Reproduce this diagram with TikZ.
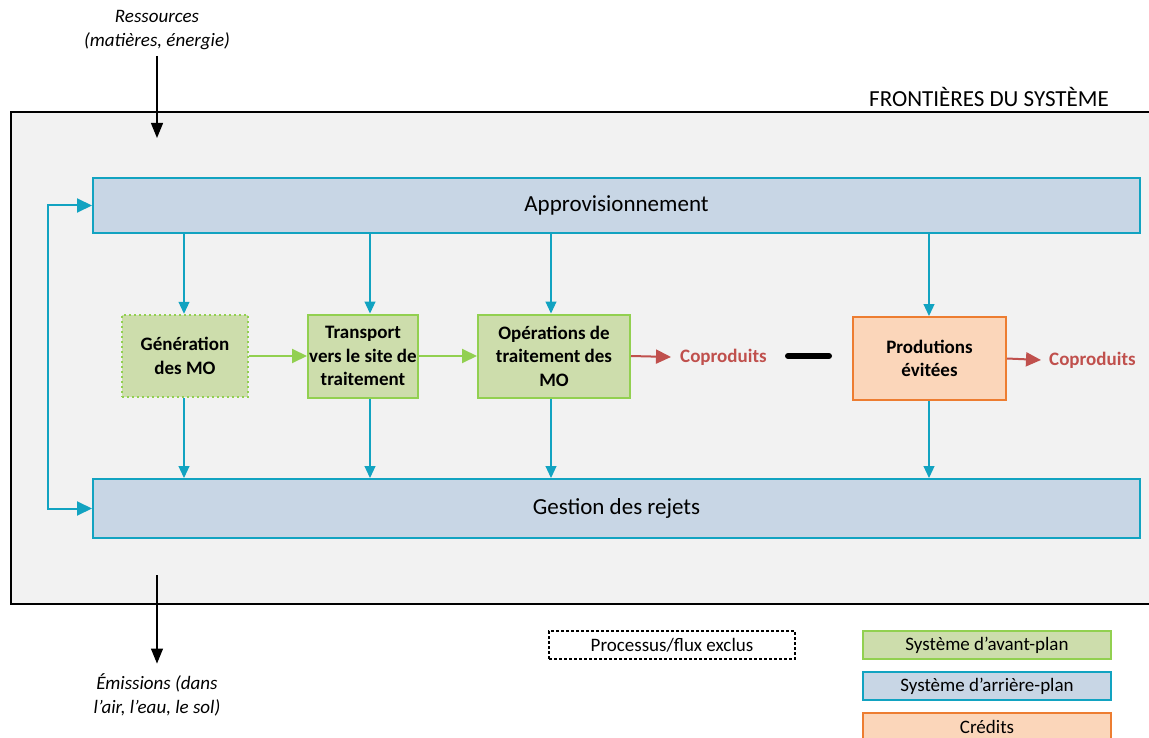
\documentclass[tikz,border=0pt]{standalone}
\usepackage{fontspec}
\setmainfont{Carlito}
\usetikzlibrary{arrows.meta}
\definecolor{fond}{RGB}{242,242,242}
\definecolor{bleu}{RGB}{18,163,193}
\definecolor{bleuclair}{RGB}{200,214,229}
\definecolor{vert}{RGB}{146,208,80}
\definecolor{vertclair}{RGB}{205,221,172}
\definecolor{orange}{RGB}{237,125,49}
\definecolor{orangeclair}{RGB}{251,214,186}
\definecolor{rouge}{RGB}{192,80,77}
\tikzset{
  grand/.style={font=\fontsize{23}{27}\selectfont},
  arriere/.style={draw=bleu,fill=bleuclair,line width=2pt,inner sep=0pt,grand},
  avant/.style={draw=vert,fill=vertclair,line width=2pt,inner sep=0pt,align=center,font=\fontsize{19}{23.5}\selectfont\bfseries},
  credit/.style={draw=orange,fill=orangeclair,line width=2pt,inner sep=0pt,align=center,font=\fontsize{19}{23.5}\selectfont\bfseries},
  legende/.style={line width=2pt,inner sep=0pt,minimum width=248pt,minimum height=28pt,font=\fontsize{19}{23}\selectfont},
  fleche/.style={draw=bleu,line width=1.2pt,-{Triangle[width=11pt,length=12pt]}},
  boucle/.style={draw=bleu,line width=2pt,{Triangle[width=14pt,length=15pt]}-{Triangle[width=14pt,length=15pt]}},
  flvert/.style={draw=vert,line width=2pt,-{Triangle[width=14pt,length=15pt]}},
  flrouge/.style={draw=rouge,line width=2pt,-{Triangle[width=14pt,length=15pt]}},
  flnoir/.style={line width=1.2pt,-{Triangle[width=12pt,length=15pt]}},
  coprod/.style={anchor=west,inner sep=0pt,text=rouge,font=\fontsize{19}{23}\selectfont\bfseries},
  italique/.style={align=center,inner sep=2pt,font=\fontsize{19}{24}\selectfont\itshape}
}
\begin{document}
\begin{tikzpicture}[x=1pt,y=-1pt]
  \useasboundingbox (0,0) rectangle (1149,738);
  % frontieres du systeme
  \draw[line width=2.5pt,fill=fond] (11,112) rectangle (1170,604);
  \node[anchor=base east,inner sep=0pt,grand] (front) at (1109,107) {FRONTIÈRES DU SYSTÈME};

  % arriere-plan
  \node[arriere,minimum width=1047pt,minimum height=55pt] (appro) at (616.5,205.5) {\raisebox{-2pt}{Approvisionnement}};
  \node[arriere,minimum width=1047pt,minimum height=59pt] (rejets) at (616.5,508.5) {\raisebox{-2pt}{Gestion des rejets}};
  \draw[boucle] (appro.west) -- ++(-44,0) |- (rejets.west);

  % avant-plan
  \node[avant,dash pattern=on 2pt off 3pt,line width=2.5pt,minimum width=126pt,minimum height=82pt] (gen) at (185,356) {Génération\\des MO};
  \node[avant,minimum width=110pt,minimum height=83pt] (trans) at (363,356) {Transport\\vers le site de\\traitement};
  \node[avant,minimum width=152pt,minimum height=83pt] (oper) at (554,356) {Opérations de\\traitement des\\MO};
  \node[credit,minimum width=153pt,minimum height=83pt] (evit) at (929.5,358.5) {Produtions\\évitées};

  \foreach \n/\x in {gen/184,trans/370,oper/551,evit/929} {
    \draw[fleche] (appro.south -| \x,0) -- (\n.north -| \x,0);
    \draw[fleche] (\n.south -| \x,0) -- (rejets.north -| \x,0);
  }
  \draw[flvert] (gen) -- (trans);
  \draw[flvert] (trans) -- (oper);

  % coproduits
  \node[coprod] (cop1) at (680,357) {Coproduits};
  \node[coprod] (cop2) at (1049,360) {Coproduits};
  \draw[flrouge] (oper.east) -- ([xshift=-9pt]cop1.west);
  \draw[flrouge] (evit.east) -- ([xshift=-8pt]cop2.west);
  \coordinate (moins1) at (788,356);
  \coordinate (moins2) at (829,356);
  \draw[line width=6pt,line cap=round] (moins1) -- (moins2);

  % entrees et sorties
  \node[italique] (ress) at (157,30) {Ressources\\(matières, énergie)};
  \coordinate (entree) at (157,138);
  \draw[flnoir] ([yshift=-4pt]ress.south) -- (entree);
  \coordinate (sortie) at (157,575);
  \node[italique] (emis) at (157,695) {Émissions (dans\\l’air, l’eau, le sol)};
  \draw[flnoir] (sortie) -- ([yshift=8pt]emis.north);

  % legende
  \node[legende,draw,dash pattern=on 3pt off 2pt,line width=1.5pt,fill=white,minimum width=246pt] (excl) at (672,645) {Processus/flux exclus};
  \node[legende,draw=vert,fill=vertclair] (lavant) at (987,645) {Système d’avant-plan};
  \node[legende,draw=bleu,fill=bleuclair] (larriere) at (987,686) {Système d’arrière-plan};
  \node[legende,draw=orange,fill=orangeclair] (lcredit) at (987,727) {Crédits};
\end{tikzpicture}
\end{document}
